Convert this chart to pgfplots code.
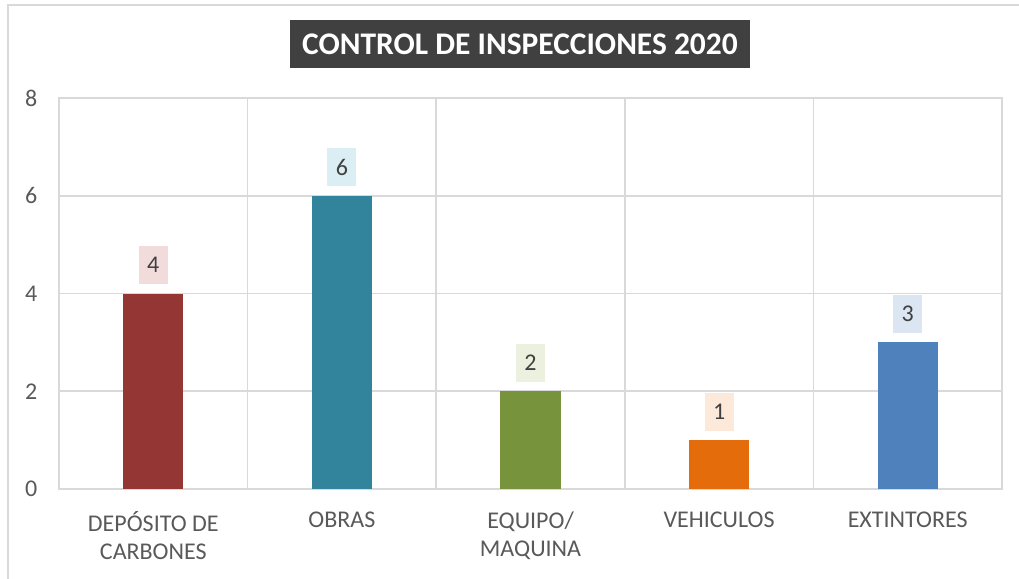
\documentclass[border=0pt]{standalone}
\usepackage{fontspec}
\setmainfont{Carlito}
\usepackage{pgfplots}
\pgfplotsset{compat=1.18}
\definecolor{gridc}{HTML}{D9D9D9}
\definecolor{tickc}{HTML}{595959}
\definecolor{labc}{HTML}{404040}
\definecolor{titbg}{HTML}{404040}
\definecolor{c1}{HTML}{943634}
\definecolor{c2}{HTML}{31849B}
\definecolor{c3}{HTML}{77933C}
\definecolor{c4}{HTML}{E46C0A}
\definecolor{c5}{HTML}{4F81BD}
\definecolor{l1}{HTML}{F2DCDB}
\definecolor{l2}{HTML}{DAEEF3}
\definecolor{l3}{HTML}{EBF1DE}
\definecolor{l4}{HTML}{FDE9D9}
\definecolor{l5}{HTML}{DCE6F2}
\begin{document}
\begin{tikzpicture}
\begin{scope}[x=0.75pt,y=-0.75pt]
\path[use as bounding box] (0,0) rectangle (1019,578);
\begin{scope}
\clip (0,0) rectangle (1019,578);
\draw[gridc, line width=1.5pt] (7.5,4.5) rectangle (1040,600);
\end{scope}
\node[fill=titbg, text=white, font=\fontsize{23.6}{27}\selectfont\bfseries, minimum width=345pt, minimum height=36pt, inner sep=0pt] at (520,44) {CONTROL DE INSPECCIONES 2020};
\end{scope}
\begin{axis}[
  at={(44.25pt,-366.75pt)}, anchor=south west,
  scale only axis, width=707.25pt, height=293.25pt,
  xmin=-0.5, xmax=4.5, ymin=0, ymax=8,
  ytick={0,2,4,6,8},
  xtick={0,1,2,3,4},
  xticklabels={DEPÓSITO DE\\CARBONES, OBRAS, EQUIPO/\\MAQUINA, VEHICULOS, EXTINTORES},
  minor xtick={0.5,1.5,2.5,3.5},
  xminorgrids, ymajorgrids,
  grid style={gridc, line width=1.2pt},
  minor grid style={gridc, line width=1.2pt},
  axis line style={draw=gridc, line width=1.2pt},
  major tick length=0pt, minor tick length=0pt,
  tick style={draw=none},
  /pgf/number format/assume math mode=true,
  ticklabel style={font=\fontsize{18}{21}\selectfont, text=tickc},
  yticklabel style={inner sep=0pt, anchor=east, xshift=-16pt},
  xticklabel style={inner sep=0pt, anchor=north, yshift=-17pt, align=center},
  bar width=0.32,
  nodes near coords,
  every node near coord/.append style={font=\fontsize{18}{21}\selectfont, text=labc, inner sep=0pt, minimum width=21.75pt, minimum height=28.5pt, anchor=south, yshift=6.75pt},
]
\addplot[ybar, bar shift=0pt, fill=c1, draw=none, every node near coord/.append style={fill=l1}] coordinates {(0,4)};
\addplot[ybar, bar shift=0pt, fill=c2, draw=none, every node near coord/.append style={fill=l2}] coordinates {(1,6)};
\addplot[ybar, bar shift=0pt, fill=c3, draw=none, every node near coord/.append style={fill=l3}] coordinates {(2,2)};
\addplot[ybar, bar shift=0pt, fill=c4, draw=none, every node near coord/.append style={fill=l4}] coordinates {(3,1)};
\addplot[ybar, bar shift=0pt, fill=c5, draw=none, every node near coord/.append style={fill=l5}] coordinates {(4,3)};
\end{axis}
\end{tikzpicture}
\end{document}
